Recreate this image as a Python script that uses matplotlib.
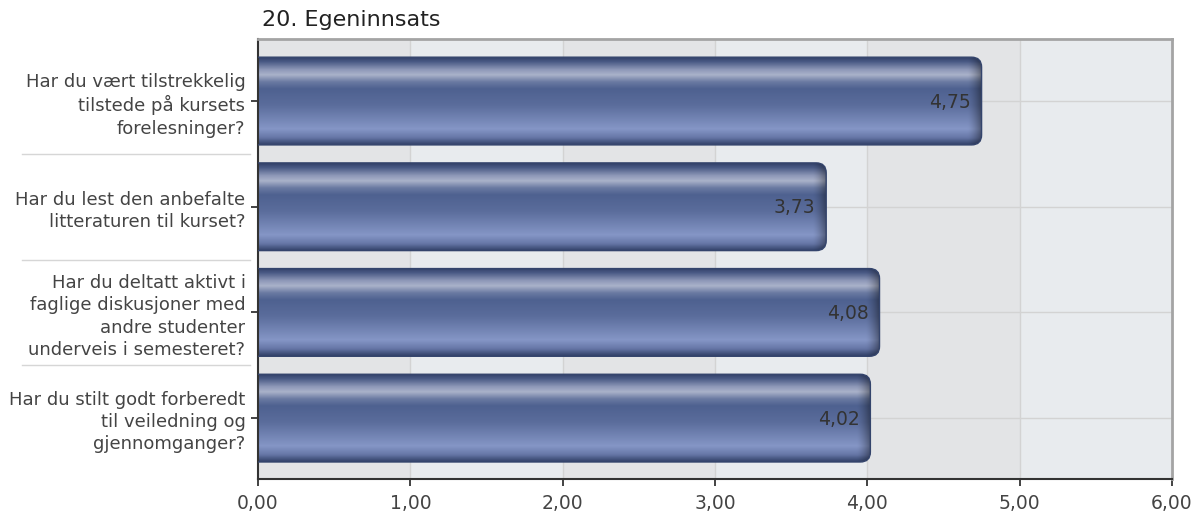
import numpy as np
import matplotlib.pyplot as plt
from matplotlib.patches import FancyBboxPatch
from matplotlib.colors import LinearSegmentedColormap
from matplotlib.transforms import blended_transform_factory

plt.rcParams['font.family'] = ['DejaVu Sans']

title = "20. Egeninnsats"
questions = [
    "Har du vært tilstrekkelig\ntilstede på kursets\nforelesninger?",
    "Har du lest den anbefalte\nlitteraturen til kurset?",
    "Har du deltatt aktivt i\nfaglige diskusjoner med\nandre studenter\nunderveis i semesteret?",
    "Har du stilt godt forberedt\ntil veiledning og\ngjennomganger?",
]
scores = [4.75, 3.73, 4.08, 4.02]
xticks = [0, 1, 2, 3, 4, 5, 6]

fig = plt.figure(figsize=(12.01, 5.16), dpi=100)
ax = fig.add_axes([258 / 1201, 37 / 516, 914 / 1201, 440 / 516])

# alternating column bands
for k in range(6):
    ax.axvspan(k, k + 1, color='#e3e4e6' if k % 2 == 0 else '#e8ebee', zorder=0, lw=0)
for k in xticks[1:-1]:
    ax.axvline(k, color='#d3d3d3', lw=1, zorder=1)
for i in range(len(scores)):
    ax.axhline(i, color='#d3d3d3', lw=1, zorder=1)

# vertical shading profile of the bars
bar_cmap = LinearSegmentedColormap.from_list('bar', [
    (0.00, '#33426a'), (0.05, '#4a5a85'), (0.14, '#8e98b8'), (0.20, '#aab2ca'),
    (0.28, '#6a7aa2'), (0.36, '#4e6190'), (0.55, '#5b6d9c'), (0.82, '#8596c6'),
    (0.92, '#6676a6'), (0.97, '#44547e'), (1.00, '#33426a')])
profile = bar_cmap(np.linspace(0, 1, 200))[:, :3]

h = 0.83
px_x = 914 / 6.0      # pixels per x unit
px_y = 105.7          # pixels per y unit
r = 10 / px_x
for i, v in enumerate(scores):
    cols = np.linspace(0, v, 600)
    dist = (v - cols) * px_x
    shade = 1 - 0.4 * np.clip(1 - dist / 14, 0, 1) ** 1.5
    img = profile[:, None, :] * shade[None, :, None]
    im = ax.imshow(img, extent=(0, v, i + h / 2, i - h / 2), origin='upper',
                   aspect='auto', interpolation='bilinear', zorder=2)
    patch = FancyBboxPatch((-0.3, i - h / 2), v + 0.3, h,
                           boxstyle=f"round,pad=0,rounding_size={r}",
                           mutation_aspect=px_x / px_y,
                           fc='none', ec='#34446c', lw=1, zorder=3)
    ax.add_patch(patch)
    im.set_clip_path(patch)
    patch.set_clip_path(ax.patch)
    ax.text(v - 0.07, i + 0.01, f"{v:.2f}".replace('.', ','), ha='right', va='center',
            fontsize=13.5, color='#333333', zorder=4)

ax.set_xlim(0, 6)
ax.set_ylim(3.576, -0.587)
ax.set_xticks(xticks)
ax.set_xticklabels([f"{t:.2f}".replace('.', ',') for t in xticks], fontsize=13.5, color='#444444')
ax.set_yticks(range(len(questions)))
ax.set_yticklabels(questions, fontsize=13, color='#444444', linespacing=1.3)
ax.tick_params(axis='both', length=5, width=1.2, color='#222222')
ax.tick_params(axis='x', pad=6)
ax.tick_params(axis='y', pad=4)

for s in ['left', 'bottom']:
    ax.spines[s].set_color('#333333')
    ax.spines[s].set_linewidth(1.5)
for s in ['top', 'right']:
    ax.spines[s].set_color('#a4a4a4')
    ax.spines[s].set_linewidth(2)

# separators between question labels
tr = blended_transform_factory(fig.transFigure, ax.transData)
for b in [0.5, 1.5, 2.5]:
    ax.plot([22 / 1201, 250 / 1201], [b, b], transform=tr, color='#d6d6d6',
            lw=1, clip_on=False)

fig.text(262 / 1201, 1 - 20 / 516, title, ha='left', va='center', fontsize=16, color='#222222')

fig.savefig('out.png', dpi=100)
